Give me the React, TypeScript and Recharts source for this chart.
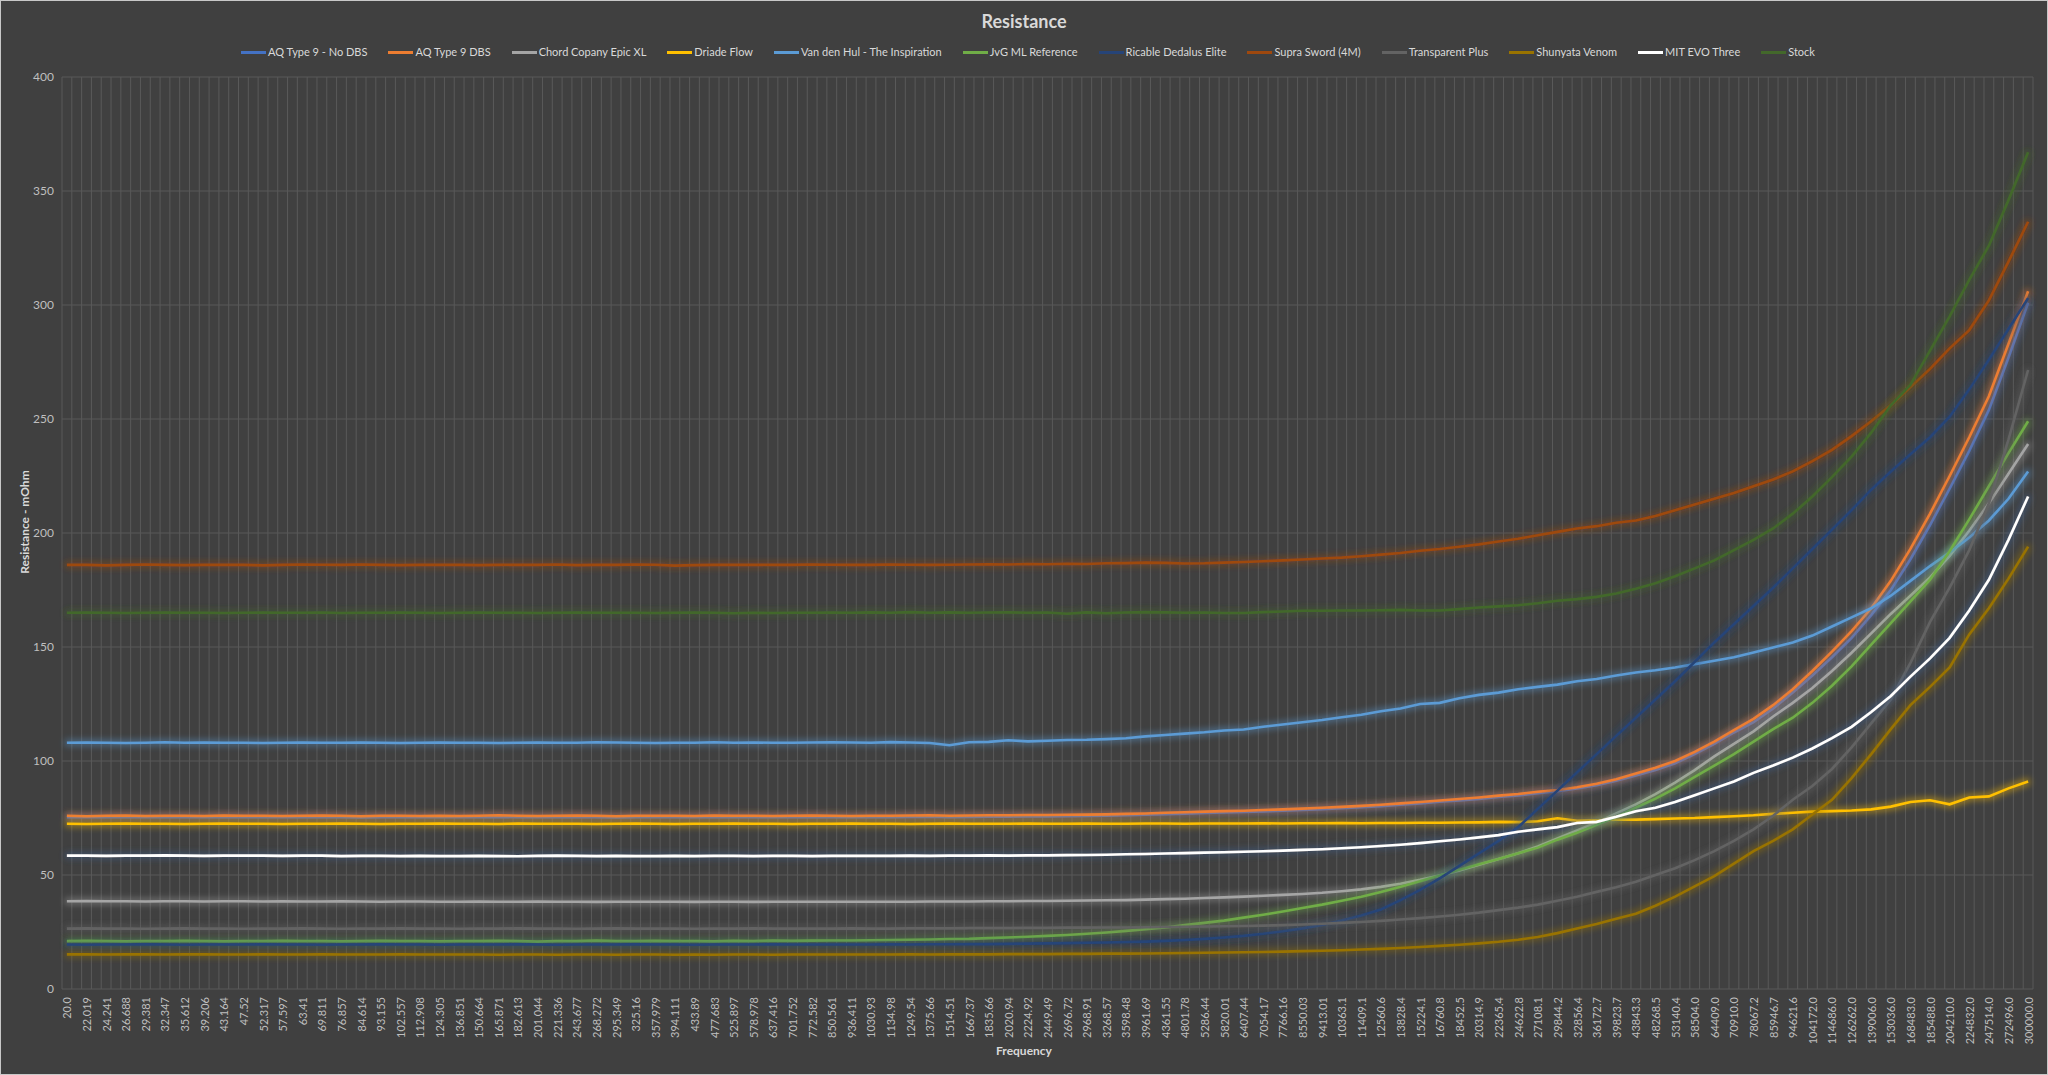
import React from 'react';
import { LineChart, Line, XAxis, YAxis, CartesianGrid } from 'recharts';

// Frequency (Hz) category labels, one every other measured point in the original sheet
const freqLabels = [
  '20.0', '22.019', '24.241', '26.688', '29.381', '32.347', '35.612', '39.206', '43.164', '47.52',
  '52.317', '57.597', '63.41', '69.811', '76.857', '84.614', '93.155', '102.557', '112.908', '124.305',
  '136.851', '150.664', '165.871', '182.613', '201.044', '221.336', '243.677', '268.272', '295.349', '325.16',
  '357.979', '394.111', '433.89', '477.683', '525.897', '578.978', '637.416', '701.752', '772.582', '850.561',
  '936.411', '1030.93', '1134.98', '1249.54', '1375.66', '1514.51', '1667.37', '1835.66', '2020.94', '2224.92',
  '2449.49', '2696.72', '2968.91', '3268.57', '3598.48', '3961.69', '4361.55', '4801.78', '5286.44', '5820.01',
  '6407.44', '7054.17', '7766.16', '8550.03', '9413.01', '10363.1', '11409.1', '12560.6', '13828.4', '15224.1',
  '16760.8', '18452.5', '20314.9', '22365.4', '24622.8', '27108.1', '29844.2', '32856.4', '36172.7', '39823.7',
  '43843.3', '48268.5', '53140.4', '58504.0', '64409.0', '70910.0', '78067.2', '85946.7', '94621.6', '104172.0',
  '114686.0', '126262.0', '139006.0', '153036.0', '168483.0', '185488.0', '204210.0', '224832.0', '247514.0', '272496.0',
  '300000.0',
];

const yTicks = [0, 50, 100, 150, 200, 250, 300, 350, 400];

// resistance values in mOhm
const aqNoDbs = [
  75.4, 75.3, 75.4, 75.5, 75.3, 75.4, 75.4, 75.3, 75.5, 75.4,
  75.4, 75.3, 75.4, 75.5, 75.4, 75.2, 75.4, 75.4, 75.3, 75.4,
  75.3, 75.4, 75.5, 75.4, 75.3, 75.4, 75.5, 75.4, 75.2, 75.4,
  75.4, 75.4, 75.3, 75.5, 75.4, 75.4, 75.3, 75.4, 75.5, 75.4,
  75.3, 75.4, 75.4, 75.5, 75.6, 75.4, 75.5, 75.6, 75.6, 75.7,
  75.7, 75.8, 75.9, 76, 76.2, 76.4, 76.7, 76.9, 77.2, 77.4,
  77.6, 77.9, 78.2, 78.5, 78.9, 79.3, 79.7, 80.2, 80.8, 81.4,
  82.1, 82.7, 83.4, 84.2, 84.9, 85.9, 86.7, 87.9, 89.4, 91.3,
  93.6, 96, 99, 103, 107.5, 112.5, 117, 123, 130, 137.5,
  145.5, 154, 164, 175, 188.5, 203.5, 219.5, 236, 254, 277,
  301,
];

const aqDbs = [
  76, 75.8, 76, 76.1, 75.9, 76, 76, 75.9, 76.1, 76,
  76, 75.9, 76, 76.1, 76, 75.8, 76, 76, 75.9, 76,
  75.9, 76, 76.2, 76, 75.9, 76, 76.1, 76, 75.8, 76,
  76, 76, 75.9, 76.1, 76, 76, 75.9, 76, 76.1, 76,
  75.9, 76, 76, 76.1, 76.2, 76, 76.1, 76.2, 76.2, 76.3,
  76.3, 76.4, 76.5, 76.6, 76.8, 77, 77.3, 77.5, 77.8, 78,
  78.2, 78.5, 78.8, 79.1, 79.5, 79.9, 80.3, 80.8, 81.4, 82,
  82.7, 83.3, 84, 84.8, 85.5, 86.5, 87.3, 88.5, 90, 92,
  94.5, 97, 100, 104, 108.5, 113.5, 118.5, 124.5, 131.5, 139.5,
  148, 157, 167, 179, 193, 208.5, 225, 242, 260, 283,
  306,
];

const chordEpic = [
  38.5, 38.6, 38.5, 38.5, 38.4, 38.5, 38.5, 38.4, 38.5, 38.5,
  38.4, 38.5, 38.4, 38.4, 38.5, 38.4, 38.3, 38.4, 38.4, 38.3,
  38.3, 38.4, 38.3, 38.3, 38.4, 38.3, 38.3, 38.2, 38.3, 38.3,
  38.3, 38.3, 38.2, 38.3, 38.3, 38.2, 38.3, 38.3, 38.3, 38.3,
  38.3, 38.3, 38.3, 38.3, 38.4, 38.4, 38.4, 38.5, 38.5, 38.6,
  38.6, 38.7, 38.8, 38.9, 39, 39.2, 39.4, 39.6, 39.9, 40.2,
  40.5, 40.9, 41.3, 41.7, 42.2, 42.9, 43.7, 44.8, 46.2, 47.9,
  49.8, 52, 54.5, 57, 59.5, 62.5, 66, 69.5, 73, 77,
  81, 85.5, 90.5, 96, 102, 107.5, 113, 119.5, 125.5, 132,
  139.5, 147.5, 156, 164.5, 172.5, 180.5, 190, 201, 213, 226,
  239,
];

const driadeFlow = [
  72.5, 72.4, 72.5, 72.6, 72.5, 72.5, 72.4, 72.5, 72.6, 72.5,
  72.5, 72.4, 72.5, 72.5, 72.6, 72.5, 72.4, 72.5, 72.5, 72.6,
  72.5, 72.5, 72.4, 72.6, 72.5, 72.5, 72.5, 72.4, 72.5, 72.6,
  72.5, 72.4, 72.5, 72.5, 72.6, 72.5, 72.5, 72.4, 72.5, 72.5,
  72.6, 72.5, 72.5, 72.4, 72.5, 72.6, 72.5, 72.5, 72.5, 72.6,
  72.5, 72.5, 72.6, 72.5, 72.5, 72.6, 72.6, 72.5, 72.6, 72.6,
  72.6, 72.7, 72.6, 72.7, 72.7, 72.8, 72.7, 72.8, 72.8, 72.9,
  72.9, 73, 73.1, 73.3, 73.2, 73.6, 74.9, 73.8, 74, 74.2,
  74.3, 74.5, 74.8, 75, 75.4, 75.8, 76.2, 76.8, 77.3, 77.8,
  78, 78.3, 78.8, 80, 82, 82.8, 81, 84, 84.5, 88,
  91,
];

const vanDenHul = [
  108, 108.1, 108, 107.9, 108, 108.2, 108, 108.1, 108, 108,
  107.9, 108, 108.1, 108, 108, 108.1, 108, 107.9, 108, 108.1,
  108, 108, 107.9, 108, 108.1, 108, 108, 108.2, 108.1, 108,
  107.9, 108, 108, 108.2, 108, 108.1, 108, 108, 108.1, 108.2,
  108.1, 108, 108.3, 108.1, 107.9, 106.9, 108.2, 108.4, 109.1, 108.6,
  108.9, 109.2, 109.3, 109.6, 110, 110.8, 111.4, 112, 112.6, 113.4,
  113.8, 115, 116, 117, 118, 119.2, 120.3, 121.8, 123, 125,
  125.5, 127.5, 129, 130, 131.5, 132.5, 133.5, 135, 136, 137.5,
  138.8, 139.8, 141, 142.5, 144, 145.5, 147.6, 149.8, 152, 155,
  159, 163, 167, 172.5, 179, 185.5, 191.5, 198, 205.5, 215,
  227,
];

const jvgReference = [
  21, 21.1, 21, 20.9, 21, 21, 21.1, 21, 20.9, 21,
  21, 21.1, 21, 21, 20.9, 21, 21.1, 21, 21, 20.9,
  21, 21, 21.1, 21, 20.8, 21, 21, 21.2, 21, 21,
  21.1, 21, 21, 20.9, 21.1, 21, 21.2, 21.1, 21.2, 21.3,
  21.3, 21.4, 21.5, 21.6, 21.7, 21.9, 22, 22.3, 22.6, 22.9,
  23.3, 23.7, 24.2, 24.8, 25.5, 26.2, 27, 28, 29, 30,
  31.3, 32.6, 34, 35.5, 37, 38.7, 40.5, 42.5, 44.8, 47.3,
  49.8, 52.3, 54.7, 57, 59.5, 62, 65.5, 68.5, 72, 75.5,
  79.5, 83.5, 88, 93, 98, 103, 108.5, 114, 119, 125.5,
  133, 141.5, 151, 160.5, 170, 179.5, 192, 206, 220.5, 235,
  249,
];

const ricableDedalus = [
  19.5, 19.4, 19.5, 19.5, 19.6, 19.5, 19.4, 19.5, 19.5, 19.5,
  19.6, 19.5, 19.5, 19.4, 19.5, 19.5, 19.6, 19.5, 19.5, 19.4,
  19.5, 19.5, 19.5, 19.6, 19.5, 19.4, 19.5, 19.5, 19.5, 19.6,
  19.5, 19.5, 19.4, 19.5, 19.5, 19.5, 19.6, 19.5, 19.5, 19.5,
  19.5, 19.5, 19.6, 19.5, 19.6, 19.6, 19.7, 19.7, 19.8, 19.9,
  20, 20.1, 20.3, 20.4, 20.6, 20.8, 21.1, 21.5, 22, 22.6,
  23.3, 24.2, 25.3, 26.6, 28.1, 30, 32.2, 34.9, 39, 43.5,
  48.5, 54, 59.5, 65, 71, 79, 87, 95, 103, 111,
  119, 127, 135, 143.5, 152, 160, 168, 176, 184.5, 193,
  201.5, 210, 219, 227, 234.5, 242, 251, 263, 276, 289.5,
  303,
];

const supraSword = [
  186, 186, 185.8, 186, 186.2, 186, 185.9, 186, 186.1, 186,
  185.8, 186, 186.2, 186.1, 186, 186.2, 186, 185.9, 186, 186.1,
  186, 185.9, 186, 186.1, 186, 186.2, 185.9, 186, 186, 186.2,
  186.1, 185.7, 185.9, 186, 186, 186.1, 186, 186, 186.2, 186.1,
  186, 186, 186.2, 186.1, 186, 186.1, 186.2, 186.3, 186.2, 186.4,
  186.3, 186.5, 186.4, 186.7, 186.8, 187, 186.9, 186.6, 186.7, 187,
  187.3, 187.6, 188, 188.4, 188.8, 189.2, 189.8, 190.5, 191.2, 192.2,
  193, 194, 195, 196.3, 197.5, 199, 200.5, 202, 203, 204.5,
  205.5, 207.5, 210, 212.5, 215, 217.5, 220.5, 223.5, 227, 231.5,
  236.5, 242.5, 249, 256, 264, 272, 281, 289, 302, 319,
  336.5,
];

const transparentPlus = [
  26.5, 26.6, 26.5, 26.5, 26.4, 26.5, 26.6, 26.5, 26.5, 26.4,
  26.5, 26.5, 26.6, 26.5, 26.4, 26.5, 26.5, 26.6, 26.5, 26.5,
  26.4, 26.5, 26.5, 26.6, 26.5, 26.5, 26.4, 26.5, 26.6, 26.5,
  26.5, 26.5, 26.4, 26.5, 26.5, 26.6, 26.5, 26.5, 26.5, 26.5,
  26.6, 26.5, 26.5, 26.6, 26.6, 26.6, 26.7, 26.7, 26.7, 26.8,
  26.8, 26.9, 26.9, 27, 27, 27.1, 27.2, 27.3, 27.4, 27.5,
  27.6, 27.8, 28, 28.3, 28.6, 29, 29.4, 29.9, 30.5, 31.1,
  31.8, 32.6, 33.5, 34.6, 35.7, 37, 38.7, 40.5, 42.6, 44.6,
  47, 50, 53, 56.5, 60.5, 65, 70, 76, 83, 89,
  96.5, 106, 116.5, 127, 143, 161, 176, 192.5, 213, 241,
  271.5,
];

const shunyataVenom = [
  15.2, 15.2, 15.1, 15.2, 15.2, 15.1, 15.2, 15.2, 15.1, 15.1,
  15.2, 15.1, 15.1, 15.2, 15.1, 15.1, 15.1, 15.2, 15.1, 15.1,
  15.1, 15.1, 15, 15.1, 15.1, 15, 15.1, 15.1, 15, 15.1,
  15.1, 15, 15.1, 15, 15.1, 15.1, 15, 15.1, 15.1, 15.1,
  15.1, 15.1, 15.1, 15.2, 15.1, 15.2, 15.2, 15.2, 15.3, 15.3,
  15.3, 15.4, 15.4, 15.5, 15.5, 15.6, 15.7, 15.8, 15.9, 16,
  16.1, 16.2, 16.4, 16.6, 16.8, 17, 17.3, 17.6, 18, 18.4,
  18.9, 19.4, 20, 20.7, 21.6, 22.8, 24.5, 26.5, 28.5, 30.8,
  33, 36.5, 40.5, 45, 49.5, 55, 60.5, 65, 70, 76.5,
  83, 92.5, 103, 114, 124.5, 132.5, 141, 155.5, 167, 180,
  194,
];

const mitEvo = [
  58.5, 58.5, 58.4, 58.5, 58.5, 58.6, 58.5, 58.4, 58.5, 58.5,
  58.5, 58.4, 58.5, 58.5, 58.3, 58.4, 58.4, 58.3, 58.4, 58.3,
  58.3, 58.4, 58.3, 58.2, 58.4, 58.5, 58.4, 58.3, 58.4, 58.3,
  58.3, 58.4, 58.3, 58.4, 58.4, 58.3, 58.4, 58.4, 58.3, 58.4,
  58.4, 58.4, 58.4, 58.5, 58.4, 58.5, 58.5, 58.6, 58.5, 58.6,
  58.6, 58.7, 58.8, 58.9, 59.1, 59.2, 59.4, 59.6, 59.8, 60,
  60.2, 60.4, 60.7, 61, 61.3, 61.7, 62.2, 62.7, 63.3, 64,
  64.8, 65.6, 66.5, 67.5, 69, 70, 71, 72.8, 73.3, 75.5,
  78, 79.5, 82, 85, 88, 91, 94.8, 98, 101.5, 105.5,
  110, 115, 121.5, 128.5, 137, 145, 154, 166, 179.5, 197,
  216,
];

const stock = [
  165, 165.1, 165, 164.9, 165, 165.1, 165, 165, 164.9, 165,
  165.1, 165, 165, 165.1, 164.9, 165, 165, 165.1, 165, 164.9,
  165, 165.1, 165, 165, 164.9, 165, 165.1, 165, 165, 165,
  164.9, 165, 165.1, 165, 164.8, 165, 164.9, 165, 165, 165.1,
  165, 165.2, 165, 165.3, 165, 165.2, 165, 165.1, 165.2, 165,
  165.1, 164.6, 165.2, 164.8, 165.1, 165.3, 165.2, 165, 165.1, 164.9,
  164.9, 165.3, 165.6, 165.9, 165.9, 166, 166, 166.1, 166.3, 166,
  166, 166.6, 167.3, 167.8, 168.3, 169.2, 170.3, 171, 172, 173.5,
  175.5, 178, 181, 184.5, 188, 192.5, 197, 202, 208.5, 216,
  224.5, 233.5, 244, 256, 265, 280, 295, 311, 326, 346,
  367,
];

const series = [
  { key: 'aqNoDbs', name: 'AQ Type 9 - No DBS', color: '#4472C4', values: aqNoDbs },
  { key: 'aqDbs', name: 'AQ Type 9 DBS', color: '#ED7D31', values: aqDbs },
  { key: 'chord', name: 'Chord Copany Epic XL', color: '#A5A5A5', values: chordEpic },
  { key: 'driade', name: 'Driade Flow', color: '#FFC000', values: driadeFlow },
  { key: 'vdh', name: 'Van den Hul - The Inspiration', color: '#5B9BD5', values: vanDenHul },
  { key: 'jvg', name: 'JvG ML Reference', color: '#70AD47', values: jvgReference },
  { key: 'ricable', name: 'Ricable Dedalus Elite', color: '#264478', values: ricableDedalus },
  { key: 'supra', name: 'Supra Sword (4M)', color: '#9E480E', values: supraSword },
  { key: 'transparent', name: 'Transparent Plus', color: '#636363', values: transparentPlus },
  { key: 'shunyata', name: 'Shunyata Venom', color: '#997300', values: shunyataVenom },
  { key: 'mit', name: 'MIT EVO Three', color: '#FFFFFF', values: mitEvo },
  { key: 'stock', name: 'Stock', color: '#43682B', values: stock },
];

const data = freqLabels.map((f, i) => {
  const row: Record<string, string | number> = { f };
  series.forEach((s) => {
    row[s.key] = s.values[i];
  });
  return row;
});

const W = 2048;
const H = 1075;
const FONT = 'Lato, "Noto Sans", sans-serif';

// Excel puts the category gridlines between points, two per label
const gridX = ({ offset, width }: any) => {
  const left = offset.left;
  const w = offset.width ?? width - offset.left - offset.right;
  return Array.from({ length: 202 }, (_, k) => left + (k * w) / 201);
};

const FreqTick = ({ x, y, payload }: any) => (
  <text
    x={x}
    y={y}
    transform={`rotate(-90 ${x} ${y})`}
    textAnchor="end"
    dominantBaseline="central"
    fill="#bfbfbf"
    fontSize={11}
    fontFamily={FONT}
  >
    {payload.value}
  </text>
);

export default function App() {
  return (
    <div style={{ position: 'relative', width: W, height: H, background: '#404040', fontFamily: FONT }}>
      <style>{'body{margin:0}'}</style>

      <div
        style={{
          position: 'absolute', top: 8, left: 0, width: W, textAlign: 'center',
          fontSize: 18, fontWeight: 700, color: '#d9d9d9', lineHeight: '26px',
        }}
      >
        Resistance
      </div>

      <div
        style={{
          position: 'absolute', top: 44, left: 4, width: W, display: 'flex',
          justifyContent: 'center', gap: 21, fontSize: 11, color: '#d9d9d9', lineHeight: '16px',
        }}
      >
        {series.map((s) => (
          <div key={s.key} style={{ display: 'flex', alignItems: 'center', whiteSpace: 'nowrap' }}>
            <span style={{ display: 'inline-block', width: 25, height: 3, background: s.color, marginRight: 2 }} />
            {s.name}
          </div>
        ))}
      </div>

      <div
        style={{
          position: 'absolute', left: 24, top: 522, transform: 'translate(-50%, -50%) rotate(-90deg)',
          whiteSpace: 'nowrap', fontSize: 12, fontWeight: 700, color: '#d9d9d9',
        }}
      >
        Resistance - mOhm
      </div>

      <div
        style={{
          position: 'absolute', left: 0, top: 1043, width: W, textAlign: 'center',
          fontSize: 12, fontWeight: 700, color: '#d9d9d9', lineHeight: '16px',
        }}
      >
        Frequency
      </div>

      <div style={{ position: 'absolute', left: 0, top: 0 }}>
        <LineChart width={W} height={H} data={data} margin={{ top: 77, right: 15, bottom: 0, left: 0 }}>
          <defs>
            <filter id="glow" filterUnits="userSpaceOnUse" x="0" y="0" width={W} height={H}>
              <feMorphology in="SourceGraphic" operator="dilate" radius="2" result="d" />
              <feGaussianBlur in="d" stdDeviation="3" result="b" />
              <feComponentTransfer in="b" result="g">
                <feFuncA type="linear" slope="0.45" />
              </feComponentTransfer>
              <feMerge>
                <feMergeNode in="g" />
                <feMergeNode in="SourceGraphic" />
              </feMerge>
            </filter>
            <filter id="glowWhite" filterUnits="userSpaceOnUse" x="0" y="0" width={W} height={H}>
              <feMorphology in="SourceAlpha" operator="dilate" radius="2" result="d" />
              <feGaussianBlur in="d" stdDeviation="3" result="b" />
              <feFlood floodColor="#3d5f8f" floodOpacity="0.5" />
              <feComposite in2="b" operator="in" result="g" />
              <feMerge>
                <feMergeNode in="g" />
                <feMergeNode in="SourceGraphic" />
              </feMerge>
            </filter>
          </defs>
          <CartesianGrid stroke="#595959" strokeWidth={1} verticalCoordinatesGenerator={gridX} />
          <XAxis
            dataKey="f"
            interval={0}
            tick={<FreqTick />}
            tickLine={false}
            axisLine={false}
            height={86}
            padding={{ left: 4.9, right: 4.9 }}
          />
          <YAxis
            domain={[0, 400]}
            ticks={yTicks}
            width={62}
            tickLine={false}
            axisLine={false}
            tick={{ fill: '#bfbfbf', fontSize: 12, fontFamily: FONT }}
          />
          {series.map((s) => (
            <Line
              key={s.key}
              type="linear"
              dataKey={s.key}
              name={s.name}
              stroke={s.color}
              strokeWidth={2.6}
              dot={false}
              activeDot={false}
              filter={s.key === 'mit' ? 'url(#glowWhite)' : 'url(#glow)'}
              isAnimationActive={false}
            />
          ))}
        </LineChart>
      </div>

      <div
        style={{
          position: 'absolute', left: 0, top: 0, width: W, height: H, boxSizing: 'border-box',
          border: '1px solid #c8c8c8', pointerEvents: 'none',
        }}
      />
    </div>
  );
}
